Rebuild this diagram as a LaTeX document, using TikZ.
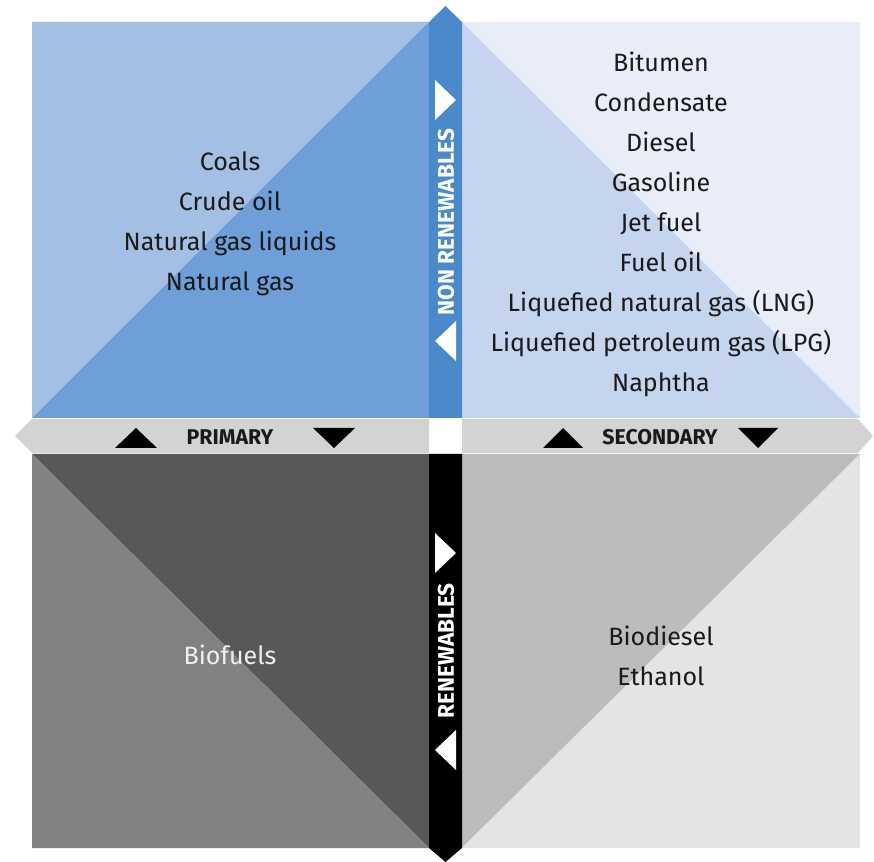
\documentclass[tikz,border=0pt]{standalone}
\usepackage{fontspec}
\setmainfont{Fira Sans}
\definecolor{tlLight}{HTML}{A3BFE3}
\definecolor{tlDark}{HTML}{6F9FD8}
\definecolor{trLight}{HTML}{E8EDF8}
\definecolor{trDark}{HTML}{C5D5EE}
\definecolor{blLight}{HTML}{808284}
\definecolor{blDark}{HTML}{58585B}
\definecolor{brLight}{HTML}{E4E4E5}
\definecolor{brDark}{HTML}{BCBCBC}
\definecolor{barBlue}{HTML}{4A8ACB}
\definecolor{bandGray}{HTML}{D3D3D3}
\definecolor{txtDark}{HTML}{1A1A1A}
\begin{document}
\begin{tikzpicture}[x=0.75pt,y=-0.75pt,
  list/.style={align=center, text=txtDark, inner sep=0pt, font=\fontsize{18.8}{30}\selectfont},
  tag/.style={inner sep=0pt, font=\bfseries\fontsize{16}{16}\selectfont},
  vtag/.style={inner sep=0pt, text=white, rotate=90, font=\bfseries\fontsize{17}{17}\selectfont}]
\useasboundingbox (0,0) rectangle (874,862);
% quadrants
\fill[tlLight] (32,22) -- (429,22) -- (32,418) -- cycle;
\fill[tlDark] (429,22) -- (429,418) -- (32,418) -- cycle;
\fill[trLight] (462,22) -- (860,22) -- (860,418) -- cycle;
\fill[trDark] (462,22) -- (860,418) -- (462,418) -- cycle;
\fill[blDark] (32,454) -- (429,454) -- (429,848) -- cycle;
\fill[blLight] (32,454) -- (429,848) -- (32,848) -- cycle;
\fill[brDark] (462,454) -- (860,454) -- (462,848) -- cycle;
\fill[brLight] (860,454) -- (860,848) -- (462,848) -- cycle;
% band and bars
\fill[bandGray] (15,436) -- (32,419) -- (429,419) -- (429,453) -- (32,453) -- cycle;
\fill[bandGray] (462,419) -- (858,419) -- (873,436) -- (858,453) -- (462,453) -- cycle;
\fill[barBlue] (429,418) -- (429,22) -- (445.5,6) -- (462,22) -- (462,418) -- cycle;
\fill[black] (429,454) -- (429,848) -- (445.5,862) -- (462,848) -- (462,454) -- cycle;
% triangles
\fill[black] (115,448) -- (136,428) -- (157,448) -- cycle;
\fill[black] (313,428) -- (355,428) -- (334,448) -- cycle;
\fill[black] (543,448) -- (563,428) -- (583,448) -- cycle;
\fill[black] (738,428) -- (778,428) -- (758,448) -- cycle;
\fill[white] (435,80) -- (456,100) -- (435,120) -- cycle;
\fill[white] (456,321) -- (435,341) -- (456,361) -- cycle;
\fill[white] (435,533) -- (456,553) -- (435,573) -- cycle;
\fill[white] (456,730) -- (435,750) -- (456,770) -- cycle;
% labels
\node[list] (prim) at (230,224) {Coals\\Crude oil\\Natural gas liquids\\Natural gas};
\node[list] (sec) at (661,224) {Bitumen\\Condensate\\Diesel\\Gasoline\\Jet fuel\\Fuel oil\\Liquefied natural gas (LNG)\\Liquefied petroleum gas (LPG)\\Naphtha};
\node[list, text=white!94!black] (bio) at (230,655) {Biofuels};
\node[list] (biosec) at (661,656) {Biodiesel\\Ethanol};
\node[tag, text=txtDark] (tprim) at (230,437) {PRIMARY};
\node[tag, text=txtDark] (tsec) at (660,437) {SECONDARY};
\node[vtag] (tnon) at (446,222) {NON RENEWABLES};
\node[vtag] (tren) at (446,651) {RENEWABLES};
\end{tikzpicture}
\end{document}
